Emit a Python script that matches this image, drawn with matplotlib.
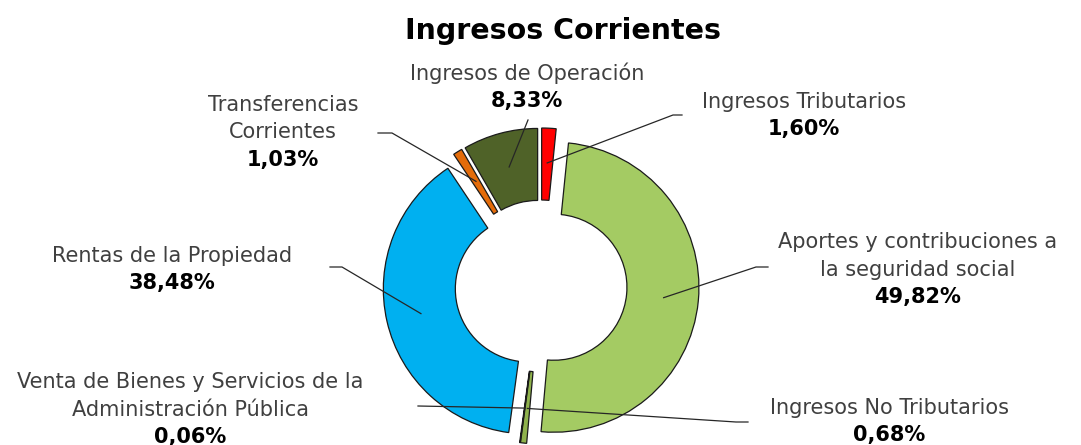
import numpy as np
import matplotlib.pyplot as plt

plt.rcParams['font.family'] = ['DejaVu Sans']

categorias = ['Ingresos Tributarios',
              'Aportes y contribuciones a\nla seguridad social',
              'Ingresos No Tributarios',
              'Venta de Bienes y Servicios de la\nAdministración Pública',
              'Rentas de la Propiedad',
              'Transferencias\nCorrientes',
              'Ingresos de Operación']
porcentajes = [1.60, 49.82, 0.68, 0.06, 38.48, 1.03, 8.33]
etiquetas_pct = ['1,60%', '49,82%', '0,68%', '0,06%', '38,48%', '1,03%', '8,33%']
colores = ['#FF0000', '#A4CB63', '#8FB24C', '#77933C', '#00B0F0', '#E46C0A', '#4F6228']

W, H = 1081, 445
fig = plt.figure(figsize=(W / 100, H / 100), dpi=100)
ax = fig.add_axes([0, 0, 1, 1])

R = 145
cx, cy = 541, H - 286
wedges, _ = ax.pie(porcentajes, radius=R, center=(cx, cy), startangle=90,
                   counterclock=False, explode=[13] * len(porcentajes),
                   colors=colores,
                   wedgeprops=dict(width=72, edgecolor='#1a1a1a', linewidth=0.9))
ax.set_xlim(0, W)
ax.set_ylim(0, H)
ax.set_aspect('equal')
ax.axis('off')

def Y(y):
    return H - y

# posicion de etiquetas (x, y de la primera linea) y codo de la linea guia
layout = [
    (804, 102, [(682, 115), (673, 115)]),
    (918, 242, [(768, 267), (756, 267)]),
    (889, 408, [(748, 422), (736, 422)]),
    (190, 382, [(418, 406)]),
    (172, 256, [(330, 267), (342, 267)]),
    (283, 105, [(378, 133), (392, 133)]),
    (527, 73, [(528, 120)]),
]

lh = 27.5
for w, nombre, pct, (tx, ty, guia) in zip(wedges, categorias, etiquetas_pct, layout):
    lineas = nombre.split('\n')
    for i, l in enumerate(lineas):
        ax.text(tx, Y(ty + i * lh), l, ha='center', va='center',
                fontsize=15, color='#404040')
    ax.text(tx, Y(ty + len(lineas) * lh), pct, ha='center', va='center',
            fontsize=15, fontweight='bold', color='black')
    # ancla dentro del sector
    ang = np.deg2rad((w.theta1 + w.theta2) / 2)
    ax0, ay0 = w.center
    rr = 0.76 * w.r
    anc = (ax0 + rr * np.cos(ang), ay0 + rr * np.sin(ang))
    xs = [p[0] for p in guia] + [anc[0]]
    ys = [Y(p[1]) for p in guia] + [anc[1]]
    ax.plot(xs, ys, color='#262626', linewidth=0.9)

ax.text(563, Y(31), 'Ingresos Corrientes', ha='center', va='center',
        fontsize=20.5, fontweight='bold', color='black')

fig.savefig('out.png', dpi=100)
